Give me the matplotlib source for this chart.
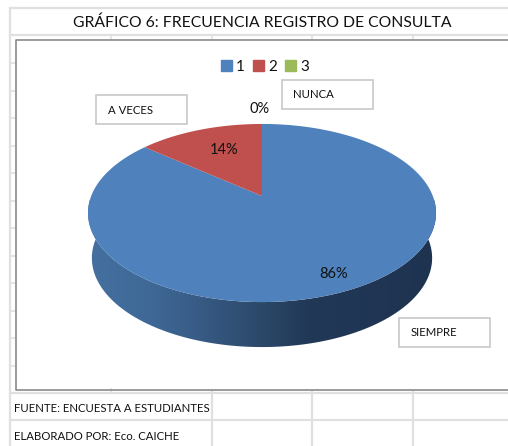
import matplotlib.pyplot as plt
import numpy as np
from matplotlib.colors import LinearSegmentedColormap
from matplotlib.patches import Patch, Polygon, Rectangle

title = "GRÁFICO 6: FRECUENCIA REGISTRO DE CONSULTA"
slices = [86, 14, 0]
pct_labels = ["86%", "14%", "0%"]
legend_names = ["1", "2", "3"]
colors = ["#4f81bd", "#c0504d", "#9bbb59"]
notes = ["A VECES", "NUNCA", "SIEMPRE"]
footer = ["FUENTE: ENCUESTA A ESTUDIANTES", "ELABORADO POR: Eco. CAICHE"]

plt.rcParams['font.family'] = ['Lato', 'DejaVu Sans']
GRID = "#e0e0e0"

fig = plt.figure(figsize=(5.08, 4.46), dpi=100)
ax = fig.add_axes([0, 0, 1, 1])


def project(theta, a=170.8, b=85.8, cx=262, cy=196):
    # disc seen in perspective, theta runs clockwise from 12 o'clock
    u, v = np.sin(theta), np.cos(theta)
    w = 1 + 0.191 * v
    return cx + a * u / w, cy - b * v / w


# sheet grid behind the chart
for y in [8, 35, 392.5, 420]:
    ax.plot([10, 508], [y, y], color=GRID, lw=1.6)
ax.plot([10, 10], [8, 446], color=GRID, lw=1.6)
for x in [212, 312, 413]:
    ax.plot([x, x], [392, 446], color=GRID, lw=1.6)
for x in [111, 212, 312, 413]:
    ax.plot([x, x], [35, 39], color=GRID, lw=1.2)
ax.plot([111, 111], [389, 392], color=GRID, lw=1.2)
for y in np.arange(63, 370, 27.5):
    ax.plot([10, 15], [y, y], color=GRID, lw=1.2)

# chart frame, open on the right where the picture is cut
ax.plot([520, 15.5, 15.5, 520], [39.5, 39.5, 389.5, 389.5], color="#8a8a8a", lw=1.2)

# side of the disc, gradient clipped to the silhouette
t = np.linspace(np.pi / 2, 3 * np.pi / 2, 200)
x_top, y_top = project(t)
t_low = np.linspace(1.62 * np.pi, 0.38 * np.pi, 260)
x_low, y_low = project(t_low, a=167, cy=241)
side = Polygon(np.r_[np.c_[x_top, y_top], np.c_[x_low, y_low]],
               closed=True, transform=ax.transData, fc="none", ec="none")
side_cmap = LinearSegmentedColormap.from_list(
    "side", [(0, "#44709f"), (0.18, "#3f6896"), (0.32, "#375b85"), (0.5, "#2b4868"),
             (0.64, "#213857"), (1, "#1e3350")])
im = ax.imshow(np.linspace(0, 1, 256)[None, :], cmap=side_cmap, extent=[88, 436, 350, 200],
               aspect="auto", zorder=2)
ax.add_patch(side)
im.set_clip_path(side)

# top face from the slice shares
ends = np.cumsum(slices) / np.sum(slices) * 2 * np.pi
starts = np.r_[0, ends[:-1]]
for s, e, c in zip(starts, ends, colors):
    if e > s:
        xs, ys = project(np.linspace(s, e, 300))
        ax.fill(np.r_[262, xs], np.r_[196, ys], color=c, lw=0, zorder=3)

for lab, (x, y) in zip(pct_labels, [(334, 274), (224, 149.5), (260, 109)]):
    ax.text(x, y, lab, fontsize=10.5, ha="center", va="center", color="#111111", zorder=5)

for name, (x, y) in zip(notes, [(96, 95), (282, 80), (399, 318)]):
    ax.add_patch(Rectangle((x, y), 91, 29, fc="white", ec="#c8c8c8", lw=1.2, zorder=4))
    ax.text(x + 11.5, y + 15, name, fontsize=8.2, ha="left", va="center", color="#111111", zorder=5)

handles = [Patch(color=c, label=n) for c, n in zip(colors, legend_names)]
ax.legend(handles=handles, ncol=3, loc="center", bbox_to_anchor=(265, 67), frameon=False,
          bbox_transform=ax.transData, fontsize=11, handlelength=0.72, handleheight=0.72,
          handletextpad=0.3, columnspacing=0.5, borderpad=0, labelcolor="#111111")

ax.text(262, 23, title, fontsize=11.3, ha="center", va="center", color="#111111")
for line, y in zip(footer, [409, 437]):
    ax.text(14, y, line, fontsize=8.2, ha="left", va="center", color="#111111")

ax.set_xlim(0, 508)
ax.set_ylim(446, 0)
ax.axis("off")
fig.savefig("out.png", dpi=100)
